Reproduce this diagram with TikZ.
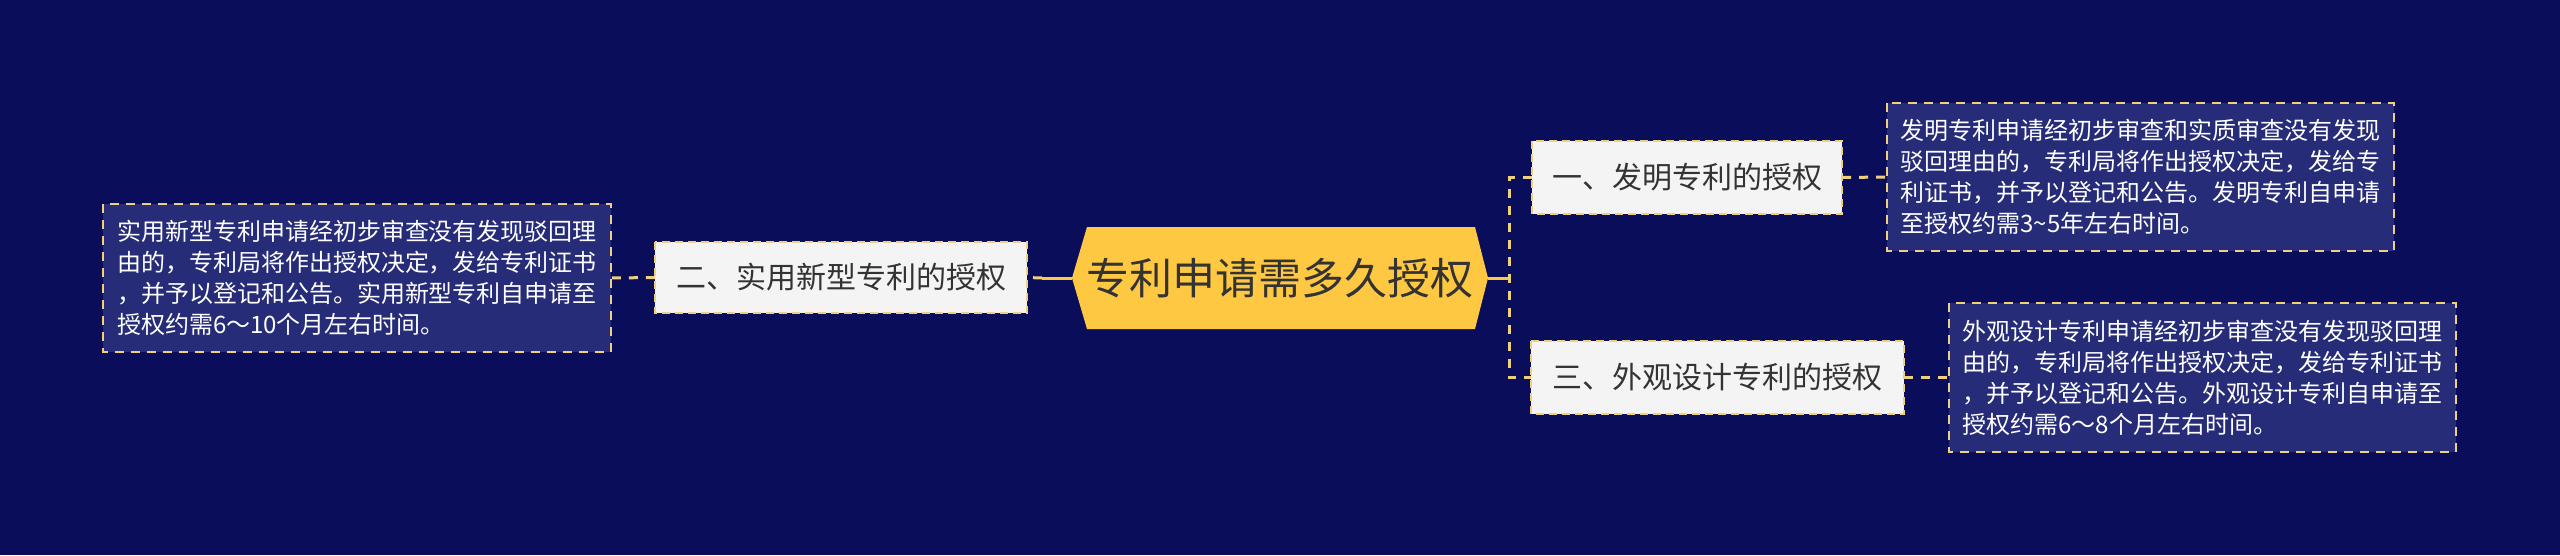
\documentclass[tikz,border=0pt]{standalone}
\usepackage{fontspec}
\newfontfamily\cjk{Noto Sans CJK SC}
\definecolor{bg}{HTML}{0A0E5A}
\definecolor{descfill}{HTML}{262C78}
\definecolor{nodefill}{HTML}{F4F4F4}
\definecolor{gold}{HTML}{FFC843}
\definecolor{paleg}{HTML}{EED07E}
\definecolor{txt}{HTML}{333333}
\tikzset{
  topicbox/.style={draw=paleg, line width=2pt, dash pattern=on 8pt off 5pt, fill=nodefill},
  topictext/.style={text=txt, font=\cjk\fontsize{30}{36}\selectfont, inner sep=0pt},
  descbox/.style={draw=paleg, line width=2pt, dash pattern=on 9pt off 7pt, fill=descfill},
  desctext/.style={text=white, font=\cjk\fontsize{24}{31}\selectfont, align=left, inner sep=0pt},
  conn/.style={draw=paleg, line width=3pt, dash pattern=on 9pt off 8pt},
  solidconn/.style={draw=gold, line width=3pt},
}
\begin{document}
\begin{tikzpicture}[x=1pt,y=-1pt]
\path[fill=bg] (0,0) rectangle (2560,555);
\useasboundingbox (0,0) rectangle (2560,555);

% center hexagon
\path[fill=gold] (1072,278) -- (1087,227) -- (1475,227) -- (1488,278) -- (1475,329) -- (1087,329) -- cycle;
\node[text=txt, font=\cjk\fontsize{43}{50}\selectfont, inner sep=0pt] (center) at (1280,278) {专利申请需多久授权};
\coordinate (cL) at (1072,278);
\coordinate (cR) at (1488,278);
\coordinate (jR) at (1509,278);
\coordinate (jL) at (1042,278);

% level-1 nodes
\path[topicbox] (1532,141) rectangle (1842,214);
\node[topictext, minimum width=310pt, minimum height=73pt] (n1) at (1687,177.5) {一、发明专利的授权};
\path[topicbox] (655,242) rectangle (1027,313);
\node[topictext, minimum width=372pt, minimum height=71pt] (n2) at (841,277.5) {二、实用新型专利的授权};
\path[topicbox] (1531,341) rectangle (1904,414);
\node[topictext, minimum width=373pt, minimum height=73pt] (n3) at (1717.5,377.5) {三、外观设计专利的授权};

% description boxes
\path[descbox] (1887,103) rectangle (2394,251);
\node[desctext, minimum width=507pt, minimum height=148pt] (d1) at (2140.5,177) {发明专利申请经初步审查和实质审查没有发现\\驳回理由的，专利局将作出授权决定，发给专\\利证书，并予以登记和公告。发明专利自申请\\至授权约需3\char"007E 5年左右时间。};
\path[descbox] (103,204) rectangle (611,352);
\node[desctext, minimum width=508pt, minimum height=148pt] (d2) at (357,278) {实用新型专利申请经初步审查没有发现驳回理\\由的，专利局将作出授权决定，发给专利证书\\，并予以登记和公告。实用新型专利自申请至\\授权约需6～10个月左右时间。};
\path[descbox] (1949,303) rectangle (2456,452);
\node[desctext, minimum width=507pt, minimum height=149pt] (d3) at (2202.5,377.5) {外观设计专利申请经初步审查没有发现驳回理\\由的，专利局将作出授权决定，发给专利证书\\，并予以登记和公告。外观设计专利自申请至\\授权约需6～8个月左右时间。};

% connectors
\draw[solidconn] (cR) -- (jR);
\draw[conn] (n1.west) -- (n1.west -| jR) -- (n3.west -| jR) -- (n3.west);
\draw[solidconn] (cL) -- (jL);
\draw[conn] (jL) -- (n2.east);
\draw[conn] (n1.east) -- (d1.west);
\draw[conn] (n3.east) -- (d3.west);
\draw[conn] (n2.west) -- (d2.east);
\end{tikzpicture}
\end{document}
